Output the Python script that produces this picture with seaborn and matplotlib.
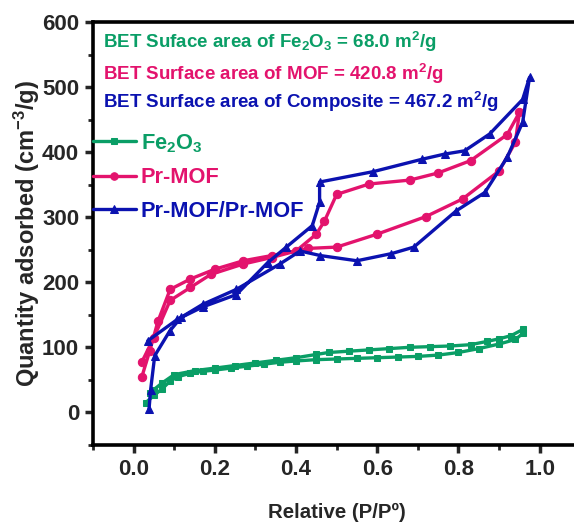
import numpy as np
import pandas as pd
import matplotlib
matplotlib.use('Agg')
import matplotlib.pyplot as plt
from matplotlib.ticker import MultipleLocator
import seaborn as sns

# data (adsorption branch then desorption branch)
fe_x = [0.03, 0.05, 0.07, 0.09, 0.11, 0.14, 0.17, 0.20, 0.24, 0.28, 0.32, 0.36, 0.40, 0.45,
        0.50, 0.55, 0.60, 0.65, 0.70, 0.75, 0.80, 0.85, 0.90, 0.94, 0.96,
        0.96, 0.93, 0.90, 0.87, 0.83, 0.78, 0.73, 0.68, 0.63, 0.58, 0.53, 0.48, 0.45,
        0.40, 0.35, 0.30, 0.25, 0.20, 0.15, 0.10, 0.07, 0.05, 0.04]
fe_y = [15, 26, 36, 48, 55, 60, 63, 65, 68, 71, 74, 77, 79, 81,
        82, 83, 84, 85, 86, 88, 92, 98, 105, 112, 122,
        128, 118, 113, 109, 104, 102, 101, 100, 98, 96, 94, 92, 89,
        84, 80, 76, 72, 68, 64, 58, 45, 35, 30]

mof_x = [0.02, 0.04, 0.06, 0.09, 0.14, 0.20, 0.27, 0.34, 0.43, 0.50, 0.60, 0.72, 0.81,
         0.90, 0.94, 0.95,
         0.92, 0.83, 0.75, 0.68, 0.58, 0.50, 0.47, 0.45, 0.40, 0.34, 0.27, 0.19, 0.14,
         0.09, 0.05, 0.02]
mof_y = [54, 95, 140, 189, 205, 220, 233, 241, 252, 254, 274, 301, 328,
         371, 415, 461,
         427, 387, 368, 357, 351, 335, 294, 274, 248, 238, 228, 212, 192,
         172, 115, 77]

comp_x = [0.038, 0.042, 0.052, 0.089, 0.117, 0.17, 0.253, 0.36, 0.41, 0.46, 0.55,
          0.635, 0.69, 0.795, 0.865, 0.92, 0.958, 0.975,
          0.958, 0.877, 0.815, 0.766, 0.71, 0.59, 0.458, 0.458, 0.44, 0.376, 0.33,
          0.253, 0.17, 0.108, 0.035]
comp_y = [5, 35, 87, 125, 146, 166, 189, 228, 248, 241, 233,
          244, 254, 310, 338, 392, 446, 515,
          481, 428, 402, 397, 389, 370, 354, 323, 287, 254, 230,
          181, 162, 143, 110]

labels = [r'Fe$_2$O$_3$', 'Pr-MOF', 'Pr-MOF/Pr-MOF']
colors = ['#0a9e66', '#e3136d', '#0b12b0']
markers = ['s', 'o', '^']

bet_texts = [r'BET Suface area of Fe$_2$O$_3$ = 68.0 m$^2$/g',
             r'BET Surface area of MOF = 420.8 m$^2$/g',
             r'BET Surface area of Composite = 467.2 m$^2$/g']
bet_y = [569, 520, 477]

sns.set_style('white')
plt.rcParams['font.family'] = ['Liberation Sans', 'DejaVu Sans']
plt.rcParams['font.weight'] = 'bold'
plt.rcParams['mathtext.fontset'] = 'custom'
plt.rcParams['mathtext.rm'] = 'Liberation Sans:bold'
plt.rcParams['mathtext.it'] = 'Liberation Sans:bold'
plt.rcParams['mathtext.bf'] = 'Liberation Sans:bold'

fig = plt.figure(figsize=(5.74, 5.24), dpi=100)
ax = fig.add_axes([0.162, 0.151, 0.849, 0.807])

series = [(fe_x, fe_y), (mof_x, mof_y), (comp_x, comp_y)]
for (xs, ys), lab, c, m in zip(series, labels, colors, markers):
    df = pd.DataFrame({'x': xs, 'y': ys})
    sns.lineplot(data=df, x='x', y='y', sort=False, estimator=None, ax=ax,
                 color=c, marker=m, markersize=6 if m != 's' else 5,
                 markeredgecolor=c, linewidth=2.4, label=lab)

ax.set_xlim(-0.1, 1.1)
ax.set_ylim(-50, 600)
ax.xaxis.set_major_locator(MultipleLocator(0.2))
ax.xaxis.set_minor_locator(MultipleLocator(0.1))
ax.yaxis.set_major_locator(MultipleLocator(100))
ax.yaxis.set_minor_locator(MultipleLocator(50))
ax.tick_params(which='major', direction='out', length=6, width=2.5,
               labelsize=16, bottom=True, left=True, pad=4)
ax.tick_params(which='minor', direction='out', length=3.5, width=2,
               bottom=True, left=True)
ax.set_xticks([0.0, 0.2, 0.4, 0.6, 0.8, 1.0])
for lbl in ax.get_xticklabels() + ax.get_yticklabels():
    lbl.set_fontweight('bold')
for s in ax.spines.values():
    s.set_visible(True)
    s.set_linewidth(2.6)
    s.set_color('black')

ax.set_xlabel('Relative (P/Pº)', fontsize=14.7, fontweight='bold', labelpad=17)
ax.set_ylabel(r'Quantity adsorbed (cm$^{-3}$/g)', fontsize=17, fontweight='bold',
              labelpad=0)

for t, yv, c in zip(bet_texts, bet_y, colors):
    ax.text(-0.076, yv, t, color=c, fontsize=13.5, fontweight='bold', va='center')

leg = ax.legend(loc='upper left', bbox_to_anchor=(0.0, 0.74), frameon=False,
                fontsize=15.7, handlelength=1.95, handletextpad=0.25,
                labelspacing=0.58, borderaxespad=0, borderpad=0, markerscale=0.9)
for txt, c in zip(leg.get_texts(), colors):
    txt.set_color(c)
    txt.set_fontweight('bold')

fig.savefig('out.png', dpi=100)
